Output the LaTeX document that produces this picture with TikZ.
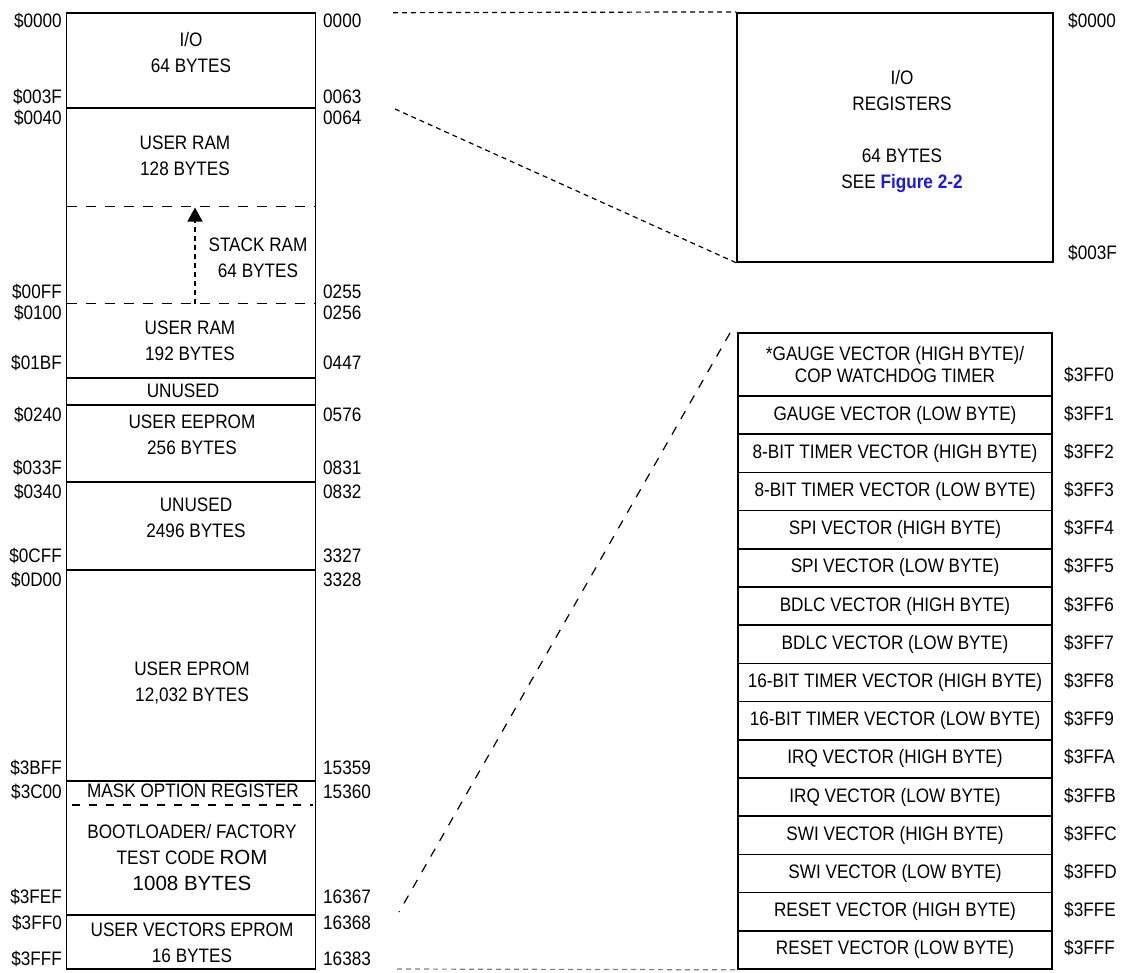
\documentclass[tikz,border=0pt]{standalone}
\usepackage{fontspec}
\setmainfont{Liberation Sans}[FakeStretch=0.88]
\newfontfamily\widefont{Liberation Sans}
\usetikzlibrary{arrows.meta}
\definecolor{figblue}{RGB}{24,24,238}

\tikzset{
  frame/.style={draw, line width=1.6pt, inner sep=0pt},
  part/.style={line width=1.6pt},
  partdash/.style={line width=1.4pt, dash pattern=on 10pt off 9pt},
  txt/.style={align=center, inner sep=0pt, font=\fontsize{19.5}{26}\selectfont},
  addr/.style={inner sep=0pt, font=\fontsize{19.5}{22}\selectfont},
  zoomline/.style={line width=1.2pt, dash pattern=on 5pt off 4pt},
  vecbox/.style={draw, line width=1.6pt, minimum width=314pt, minimum height=38.2pt, txt},
}

\begin{document}
\begin{tikzpicture}[x=1pt,y=-1pt]
  \useasboundingbox (0,0) rectangle (1121,972);
  % memory map column
  \node[frame, minimum width=249pt, minimum height=956.3pt] (map) at (191,490.85) {};
  \foreach \y in {108,378,405,482,570,781,915}
    \draw[part] (66.5,\y) -- (315.5,\y);
  \foreach \y in {206.5,303.5}
    \draw[partdash] (66.5,\y) -- (315.5,\y);
  \draw[line width=1.4pt, dash pattern=on 8pt off 9pt] (72,805) -- (313,805);

  \node[txt] (io) at (191,53) {I/O\\64 BYTES};
  \node[txt] (ram1) at (185,155.5) {USER RAM\\128 BYTES};
  \node[txt] (stack) at (258,257.5) {STACK RAM\\64 BYTES};
  \node[txt] (ram2) at (190,340.5) {USER RAM\\192 BYTES};
  \node[txt] (unused1) at (183,391) {UNUSED};
  \node[txt] (eeprom) at (192,435) {USER EEPROM\\256 BYTES};
  \node[txt] (unused2) at (196,518) {UNUSED\\2496 BYTES};
  \node[txt] (eprom) at (192,682.5) {USER EPROM\\12,032 BYTES};
  \node[txt] (mask) at (193,791) {MASK OPTION REGISTER};
  \node[txt] (boot) at (192,858) {BOOTLOADER/ FACTORY\\TEST CODE {\widefont\fontsize{20.5}{26}\selectfont ROM}\\{\widefont\fontsize{20.5}{26}\selectfont 1008 BYTES}};
  \node[txt] (vectors) at (192,942.5) {USER VECTORS EPROM\\16 BYTES};

  % stack grows upward
  \coordinate (stkfoot) at (195,303.5);
  \coordinate (stktop) at (195,207.5);
  \draw[line width=1.2pt, dash pattern=on 5pt off 4pt, -{Triangle[length=14pt,width=15pt]}] (stkfoot) -- (stktop);

  % addresses, hex on the left and decimal on the right
  \foreach \y/\hex/\dec [count=\i] in {21/0000/0000, 97/003F/0063, 118/0040/0064,
      292/00FF/0255, 313/0100/0256, 363/01BF/0447, 415/0240/0576, 468/033F/0831,
      492/0340/0832, 556/0CFF/3327, 580/0D00/3328, 768/3BFF/15359, 792/3C00/15360,
      897/3FEF/16367, 923/3FF0/16368, 959/3FFF/16383}{
    \node[addr, anchor=east] (hex\i) at (62,\y) {\$\hex};
    \node[addr, anchor=west] (dec\i) at (323,\y) {\dec};
  }

  % I/O registers
  \node[frame, minimum width=316pt, minimum height=249.3pt] (regs) at (895,137.35) {};
  \node[txt] (regstxt) at (902,131.5) {I/O\\REGISTERS\\[26pt]64 BYTES\\SEE {\bfseries\color{figblue}Figure 2-2}};
  \node[addr, anchor=west] (regtop) at (1068,21) {\$0000};
  \node[addr, anchor=west] (regbot) at (1068,253) {\$003F};

  % vectors
  \node[vecbox, minimum height=63pt, font=\fontsize{19.5}{22}\selectfont] (vec0) at (895,364.5) {*GAUGE VECTOR (HIGH BYTE)/\\COP WATCHDOG TIMER};
  \node[addr, anchor=west] (adr0) at (1064,375) {\$3FF0};
  \foreach \txt/\h [count=\i] in {GAUGE VECTOR (LOW BYTE)/1,
      8-BIT TIMER VECTOR (HIGH BYTE)/2, 8-BIT TIMER VECTOR (LOW BYTE)/3,
      SPI VECTOR (HIGH BYTE)/4, SPI VECTOR (LOW BYTE)/5,
      BDLC VECTOR (HIGH BYTE)/6, BDLC VECTOR (LOW BYTE)/7,
      16-BIT TIMER VECTOR (HIGH BYTE)/8, 16-BIT TIMER VECTOR (LOW BYTE)/9,
      IRQ VECTOR (HIGH BYTE)/A, IRQ VECTOR (LOW BYTE)/B,
      SWI VECTOR (HIGH BYTE)/C, SWI VECTOR (LOW BYTE)/D,
      RESET VECTOR (HIGH BYTE)/E, RESET VECTOR (LOW BYTE)/F}{
    \node[vecbox] (vec\i) at (895,{415.1+(\i-1)*38.2}) {\txt};
    \node[addr, anchor=west] (adr\i) at (1064,{413.5+(\i-1)*38.2}) {\$3FF\h};
  }

  % zoom lines
  \coordinate (z1) at (393,12.7);
  \coordinate (z2) at (395,109);
  \coordinate (z3) at (730,333);
  \coordinate (z4) at (399,912);
  \coordinate (z5) at (397,969);
  \draw[zoomline] (z1) -- (regs.north west);
  \draw[zoomline] (z2) -- (regs.south west);
  \draw[zoomline, dash pattern=on 9pt off 9pt] (z3) -- (z4);
  \draw[zoomline, gray] (z5) -- (vec15.south west);
\end{tikzpicture}
\end{document}
